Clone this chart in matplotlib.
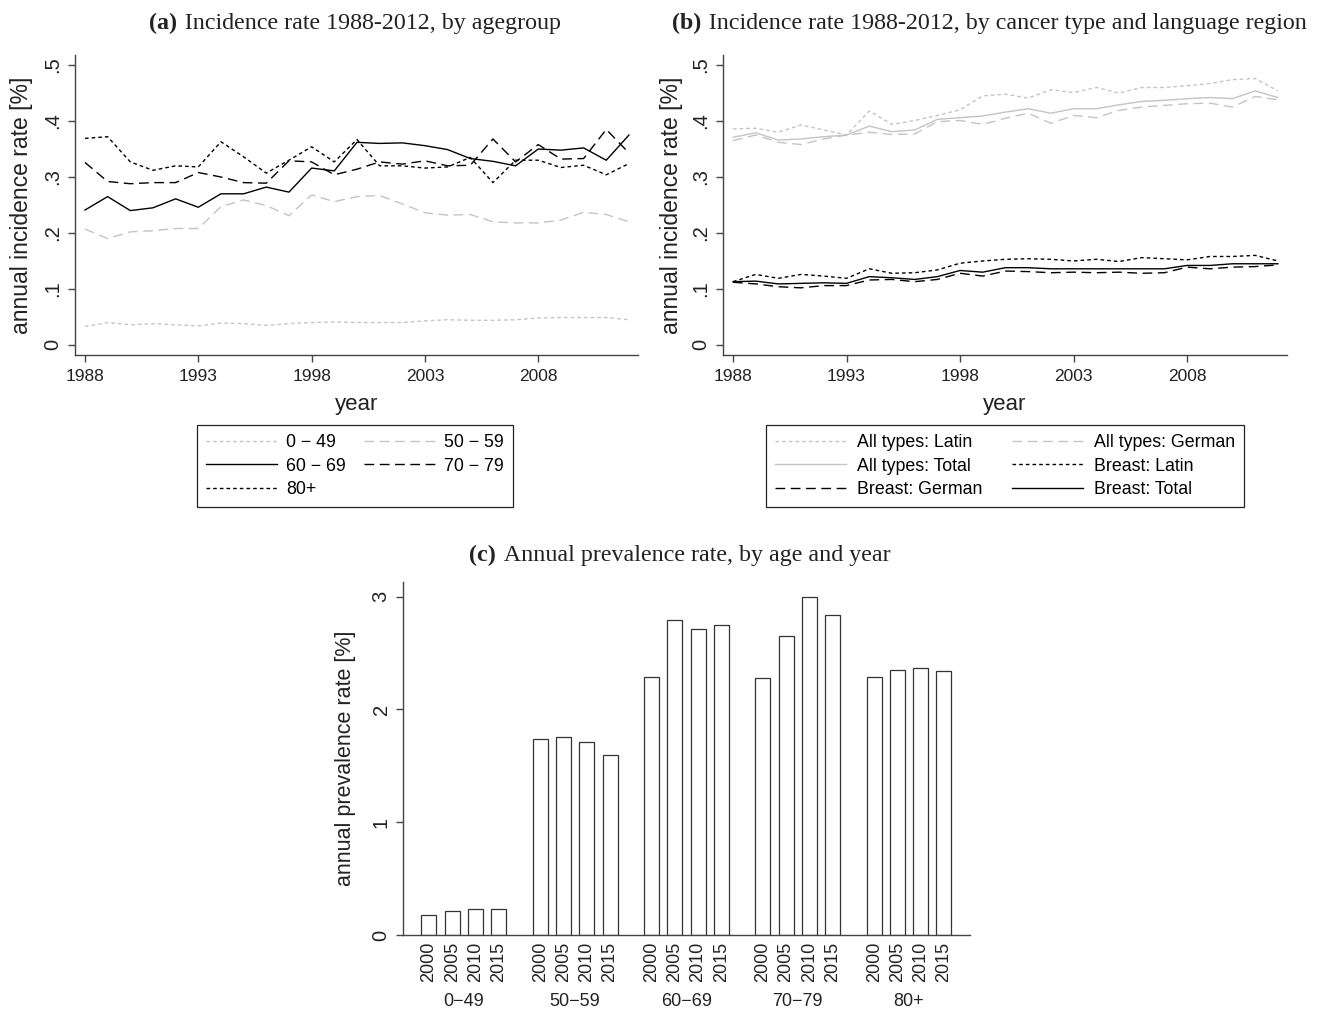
import numpy as np
import matplotlib
matplotlib.use("Agg")
import matplotlib.pyplot as plt

W, H = 1323, 1011
SANS = ["Liberation Sans", "DejaVu Sans"]
SERIF = ["Liberation Serif", "DejaVu Serif"]
plt.rcParams['font.family'] = SANS

# ---- data -------------------------------------------------------------
years = list(range(1988, 2013))

age_0_49 = [0.033, 0.040, 0.036, 0.038, 0.036, 0.034, 0.039, 0.038, 0.035, 0.038, 0.040, 0.041, 0.040,
            0.040, 0.040, 0.043, 0.045, 0.044, 0.044, 0.045, 0.048, 0.049, 0.049, 0.049, 0.045]
age_50_59 = [0.207, 0.190, 0.202, 0.204, 0.208, 0.208, 0.247, 0.259, 0.249, 0.231, 0.268, 0.256, 0.265,
             0.267, 0.252, 0.236, 0.232, 0.233, 0.220, 0.218, 0.218, 0.223, 0.237, 0.233, 0.220]
age_60_69 = [0.241, 0.265, 0.240, 0.245, 0.261, 0.246, 0.270, 0.270, 0.282, 0.273, 0.316, 0.311, 0.362,
             0.360, 0.361, 0.356, 0.349, 0.333, 0.328, 0.320, 0.350, 0.348, 0.352, 0.330, 0.375]
age_70_79 = [0.326, 0.292, 0.288, 0.290, 0.290, 0.308, 0.300, 0.290, 0.289, 0.329, 0.327, 0.304, 0.314,
             0.327, 0.323, 0.329, 0.320, 0.321, 0.368, 0.327, 0.358, 0.332, 0.333, 0.385, 0.343]
age_80p = [0.369, 0.372, 0.327, 0.312, 0.320, 0.318, 0.363, 0.336, 0.307, 0.330, 0.354, 0.327, 0.367,
           0.320, 0.320, 0.316, 0.318, 0.335, 0.290, 0.330, 0.330, 0.317, 0.321, 0.304, 0.324]

all_latin = [0.386, 0.387, 0.380, 0.393, 0.384, 0.375, 0.418, 0.394, 0.401, 0.410, 0.420, 0.445, 0.448,
             0.441, 0.456, 0.451, 0.460, 0.450, 0.460, 0.460, 0.463, 0.467, 0.474, 0.476, 0.454]
all_german = [0.365, 0.375, 0.362, 0.358, 0.368, 0.375, 0.380, 0.376, 0.377, 0.399, 0.401, 0.394, 0.405,
              0.414, 0.396, 0.410, 0.406, 0.419, 0.425, 0.428, 0.431, 0.432, 0.425, 0.444, 0.438]
all_total = [0.371, 0.379, 0.366, 0.368, 0.372, 0.375, 0.391, 0.381, 0.384, 0.403, 0.406, 0.409, 0.416,
             0.422, 0.414, 0.422, 0.422, 0.429, 0.435, 0.437, 0.440, 0.442, 0.440, 0.454, 0.442]
breast_latin = [0.113, 0.126, 0.119, 0.126, 0.123, 0.119, 0.136, 0.128, 0.129, 0.134, 0.146, 0.150, 0.153,
                0.154, 0.153, 0.150, 0.153, 0.149, 0.156, 0.154, 0.152, 0.158, 0.158, 0.160, 0.150]
breast_german = [0.112, 0.109, 0.104, 0.102, 0.106, 0.106, 0.116, 0.117, 0.113, 0.117, 0.128, 0.123, 0.132,
                 0.131, 0.129, 0.130, 0.129, 0.130, 0.128, 0.129, 0.139, 0.136, 0.139, 0.140, 0.143]
breast_total = [0.113, 0.114, 0.109, 0.110, 0.111, 0.110, 0.122, 0.120, 0.117, 0.122, 0.133, 0.130, 0.138,
                0.138, 0.136, 0.136, 0.136, 0.136, 0.136, 0.136, 0.142, 0.142, 0.145, 0.145, 0.145]

age_groups = ['0\u221249', '50\u221259', '60\u221269', '70\u221279', '80+']
prev_years = ['2000', '2005', '2010', '2015']
prev_0_49 = [0.18, 0.21, 0.23, 0.23]
prev_50_59 = [1.74, 1.76, 1.71, 1.60]
prev_60_69 = [2.29, 2.79, 2.71, 2.75]
prev_70_79 = [2.28, 2.65, 3.00, 2.84]
prev_80p = [2.29, 2.35, 2.37, 2.34]

# ---- styles ------------------------------------------------------------
GRAY = '#c4c4c4'
INK = '#222222'
AXC = '#444444'
SHORT = (0, (2.6, 2.2))
LONG = (0, (7, 4))


def px_axes(left, top, right, bottom):
    return fig.add_axes([left / W, 1 - bottom / H, (right - left) / W, (bottom - top) / H])


def style_line_axes(ax):
    for s in ['top', 'right']:
        ax.spines[s].set_visible(False)
    for s in ['left', 'bottom']:
        ax.spines[s].set_color(AXC)
        ax.spines[s].set_linewidth(1.0)
    ax.set_xlim(1987.56, 2012.4)
    ax.set_ylim(-0.018, 0.518)
    ax.set_xticks([1988, 1993, 1998, 2003, 2008])
    ax.set_yticks([0, .1, .2, .3, .4, .5], ['0', '.1', '.2', '.3', '.4', '.5'])
    ax.tick_params(length=5, width=1.0, color=AXC, labelsize=12.5, labelcolor=INK, pad=5)
    ax.tick_params(axis='y', labelsize=14.5, pad=4)
    for lab in ax.get_yticklabels():
        lab.set_rotation(90)
        lab.set_va('center')
    ax.set_xlabel('year', fontsize=16, color=INK, va='top')
    ax.xaxis.set_label_coords(0.5, -(394 - 355) / 300)
    ax.set_ylabel('annual incidence rate [%]', fontsize=16.5, color=INK)
    ax.yaxis.set_label_coords(-(75 - 33) / 563, 0.5)


def panel_title(x_px, y_px, tag, text):
    r = fig.canvas.get_renderer()
    t1 = fig.text(0, 0, tag, family=SERIF, fontweight='bold', fontsize=17.3, va='baseline', color=INK)
    t2 = fig.text(0, 0, '\u2009' + text, family=SERIF, fontsize=17.3, va='baseline', color=INK)
    w1 = t1.get_window_extent(r).width
    w2 = t2.get_window_extent(r).width
    x0 = x_px - (w1 + w2) / 2
    t1.set_position((x0 / W, 1 - y_px / H))
    t2.set_position(((x0 + w1 + 3) / W, 1 - y_px / H))


fig = plt.figure(figsize=(W / 100, H / 100), dpi=100)

# ---- (a) ---------------------------------------------------------------
ax1 = px_axes(75, 55, 638, 355)
la = ax1.plot(years, age_0_49, color=GRAY, lw=1.0, ls=SHORT, label='0 \u2212 49')[0]
lb = ax1.plot(years, age_50_59, color=GRAY, lw=1.0, ls=LONG, label='50 \u2212 59')[0]
lc = ax1.plot(years, age_60_69, color='black', lw=1.0, ls='-', label='60 \u2212 69')[0]
ld = ax1.plot(years, age_70_79, color='black', lw=1.0, ls=LONG, label='70 \u2212 79')[0]
le = ax1.plot(years, age_80p, color='black', lw=1.0, ls=SHORT, label='80+')[0]
style_line_axes(ax1)
hs = [la, lc, le, lb, ld]
leg = ax1.legend(hs, [h.get_label() for h in hs], ncol=2, loc='upper center',
                 bbox_to_anchor=(355 / W, 1 - 425 / H), bbox_transform=fig.transFigure,
                 fancybox=False, edgecolor=INK, framealpha=1, fontsize=12.8,
                 handlelength=4.0, handletextpad=0.5, columnspacing=1.0,
                 labelspacing=0.38, borderpad=0.5, borderaxespad=0)
leg.get_frame().set_linewidth(0.9)

# ---- (b) ---------------------------------------------------------------
ax2 = px_axes(723, 55, 1287, 355)
lines = {}
lines['All types: Latin'] = ax2.plot(years, all_latin, color=GRAY, lw=1.0, ls=SHORT)[0]
lines['All types: German'] = ax2.plot(years, all_german, color=GRAY, lw=1.0, ls=LONG)[0]
lines['All types: Total'] = ax2.plot(years, all_total, color=GRAY, lw=1.0, ls='-')[0]
lines['Breast: Latin'] = ax2.plot(years, breast_latin, color='black', lw=1.0, ls=SHORT)[0]
lines['Breast: German'] = ax2.plot(years, breast_german, color='black', lw=1.0, ls=LONG)[0]
lines['Breast: Total'] = ax2.plot(years, breast_total, color='black', lw=1.0, ls='-')[0]
style_line_axes(ax2)
ax2.yaxis.set_label_coords(-(723 - 683) / 564, 0.5)
order = ['All types: Latin', 'All types: Total', 'Breast: German',
         'All types: German', 'Breast: Latin', 'Breast: Total']
leg2 = ax2.legend([lines[k] for k in order], order, ncol=2, loc='upper center',
                  bbox_to_anchor=(1005 / W, 1 - 425 / H), bbox_transform=fig.transFigure,
                  fancybox=False, edgecolor=INK, framealpha=1, fontsize=12.8,
                  handlelength=4.0, handletextpad=0.6, columnspacing=1.7,
                  labelspacing=0.38, borderpad=0.5, borderaxespad=0)
leg2.get_frame().set_linewidth(0.9)

# ---- (c) ---------------------------------------------------------------
ax3 = px_axes(403, 582, 970, 935)
prev = [prev_0_49, prev_50_59, prev_60_69, prev_70_79, prev_80p]
x0, step_in, step_grp = 1.73, 1.55, 7.42
xs_all, labs_all = [], []
for g, vals in enumerate(prev):
    xs = x0 + g * step_grp + np.arange(len(vals)) * step_in
    ax3.bar(xs, vals, width=1.0, color='white', edgecolor='#333333', linewidth=0.9)
    xs_all.extend(xs)
    labs_all.extend(prev_years)
    ax3.text(xs.mean(), -(1002 - 935) / 353, age_groups[g], transform=ax3.get_xaxis_transform(),
             ha='center', va='center', fontsize=13, color=INK)
ax3.set_xlim(0, 37.8)
ax3.set_ylim(0, 3.13)
ax3.set_xticks(xs_all, labs_all, rotation=90)
ax3.tick_params(axis='x', length=0, pad=5, labelsize=13, labelcolor=INK)
ax3.set_yticks([0, 1, 2, 3])
ax3.tick_params(axis='y', length=5, width=1.0, color=AXC, labelsize=14.5, labelcolor=INK, pad=4)
for lab in ax3.get_yticklabels():
    lab.set_rotation(90)
    lab.set_va('center')
for s in ['top', 'right']:
    ax3.spines[s].set_visible(False)
for s in ['left', 'bottom']:
    ax3.spines[s].set_color(AXC)
    ax3.spines[s].set_linewidth(1.0)
ax3.set_ylabel('annual prevalence rate [%]', fontsize=15.5, color=INK)
ax3.yaxis.set_label_coords(-(403 - 356) / 567, 0.5)

# ---- titles ------------------------------------------------------------
panel_title(354, 29, '(a)', 'Incidence rate 1988-2012, by agegroup')
panel_title(988, 29, '(b)', 'Incidence rate 1988-2012, by cancer type and language region')
panel_title(678, 561, '(c)', 'Annual prevalence rate, by age and year')

fig.savefig('out.png', dpi=100)
